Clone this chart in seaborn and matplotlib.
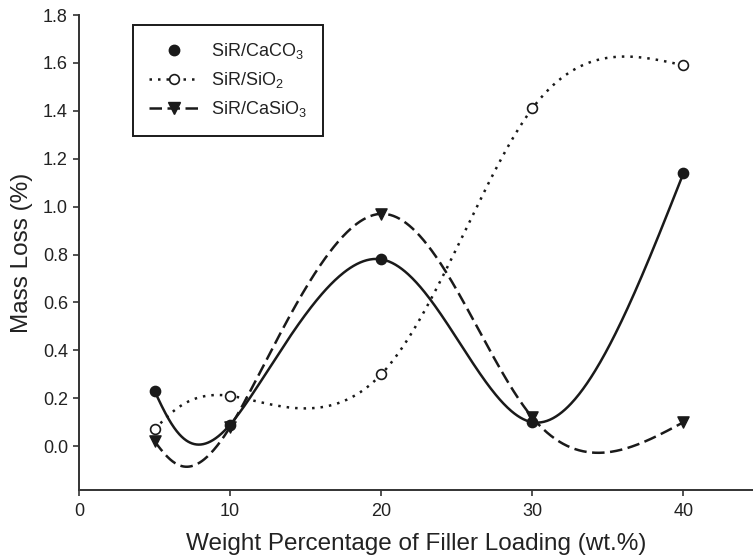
import numpy as np
import pandas as pd
import matplotlib
matplotlib.use("Agg")
import matplotlib.pyplot as plt
from matplotlib.lines import Line2D
import seaborn as sns

# ---- data ----
loading = [5, 10, 20, 30, 40]
caco3 = [0.23, 0.09, 0.78, 0.10, 1.14]
sio2 = [0.07, 0.21, 0.30, 1.41, 1.59]
casio3 = [0.02, 0.08, 0.97, 0.12, 0.10]
series_labels = ["SiR/CaCO$_\\mathregular{3}$",
                 "SiR/SiO$_\\mathregular{2}$",
                 "SiR/CaSiO$_\\mathregular{3}$"]
x_ticks = [0, 10, 20, 30, 40]
y_ticks = [0.0, 0.2, 0.4, 0.6, 0.8, 1.0, 1.2, 1.4, 1.6, 1.8]

sns.set_style("ticks")
plt.rcParams["font.family"] = ["Liberation Sans", "DejaVu Sans"]
plt.rcParams["mathtext.fontset"] = "custom"
plt.rcParams["mathtext.rm"] = "Liberation Sans"


def natural_second_derivs(t, v):
    k = len(t)
    h = np.diff(t)
    A = np.zeros((k, k))
    b = np.zeros(k)
    A[0, 0] = A[-1, -1] = 1.0
    for i in range(1, k - 1):
        A[i, i - 1] = h[i - 1]
        A[i, i] = 2 * (h[i - 1] + h[i])
        A[i, i + 1] = h[i]
        b[i] = 6 * ((v[i + 1] - v[i]) / h[i] - (v[i] - v[i - 1]) / h[i - 1])
    return np.linalg.solve(A, b)


def eval_spline(t, v, M, ts):
    k = len(t)
    idx = np.clip(np.searchsorted(t, ts) - 1, 0, k - 2)
    t0, t1 = t[idx], t[idx + 1]
    hh = t1 - t0
    a, c = t1 - ts, ts - t0
    return (M[idx] * a ** 3 / (6 * hh) + M[idx + 1] * c ** 3 / (6 * hh)
            + (v[idx] / hh - M[idx] * hh / 6) * a
            + (v[idx + 1] / hh - M[idx + 1] * hh / 6) * c)


def parametric_spline(x, y, n=600):
    """Smooth parametric curve through the data points (uniform parameter)."""
    x = np.asarray(x, float)
    y = np.asarray(y, float)
    t = np.arange(len(x), dtype=float)
    ts = np.linspace(0, t[-1], n)
    xs = eval_spline(t, x, natural_second_derivs(t, x), ts)
    ys = eval_spline(t, y, natural_second_derivs(t, y), ts)
    return xs, ys


W, H = 753, 559
fig = plt.figure(figsize=(W / 100, H / 100), dpi=100)
ax = fig.add_axes([79 / W, (H - 490) / H, (W - 79) / W, (490 - 15) / H])

ink = "#1a1a1a"
specs = [
    (caco3, "-", "o", ink, 55, 1.0),
    (sio2, (0, (1, 2.4)), "o", "white", 50, 1.2),
    (casio3, (0, (5, 2.2)), "v", ink, 65, 1.0),
]

for vals, ls, mk, fc, s, ew in specs:
    xs, ys = parametric_spline(loading, vals)
    curve = pd.DataFrame({"x": xs, "y": ys})
    sns.lineplot(data=curve, x="x", y="y", ax=ax, color=ink, linewidth=1.8,
                 linestyle=ls, sort=False, estimator=None, zorder=2)
    pts = pd.DataFrame({"x": loading, "y": vals})
    sns.scatterplot(data=pts, x="x", y="y", ax=ax, marker=mk, s=s,
                    color=fc, edgecolor=ink, linewidth=ew, zorder=3)

ax.set_xlim(0, 44.6)
ax.set_ylim(-0.183, 1.8)
ax.set_xticks(x_ticks)
ax.set_xticklabels([str(v) for v in x_ticks])
ax.set_yticks(y_ticks)
ax.set_yticklabels([f"{v:.1f}" for v in y_ticks])

for side in ["top", "right"]:
    ax.spines[side].set_visible(False)
for side in ["left", "bottom"]:
    ax.spines[side].set_color("#333333")
    ax.spines[side].set_linewidth(1.4)

ax.tick_params(axis="both", direction="out", length=4.5, width=1.2,
               color="#333333", labelsize=13, labelcolor="#222222")
ax.tick_params(axis="x", pad=5)
ax.tick_params(axis="y", pad=3.5)

ax.set_xlabel("Weight Percentage of Filler Loading (wt.%)", fontsize=17.5,
              color="#222222", va="center")
ax.set_ylabel("Mass Loss (%)", fontsize=17.5, color="#222222")
ax.xaxis.set_label_coords(0.5, -0.114)
ax.yaxis.set_label_coords(-0.068, 0.5)

handles = [
    Line2D([], [], color=ink, marker="o", linestyle="None", markersize=7.5,
           markerfacecolor=ink, markeredgecolor=ink),
    Line2D([], [], color=ink, marker="o", linestyle=(0, (1, 2.4)), linewidth=1.8,
           markersize=7, markerfacecolor="white", markeredgecolor=ink, markeredgewidth=1.2),
    Line2D([], [], color=ink, marker="v", linestyle=(0, (5, 2.2)), linewidth=1.8,
           markersize=8, markerfacecolor=ink, markeredgecolor=ink),
]
leg = ax.legend(handles, series_labels, loc="upper left",
                bbox_to_anchor=((133 - 79) / (W - 79), (490 - 25) / (490 - 15)),
                borderaxespad=0, fontsize=13, frameon=True, fancybox=False,
                framealpha=1, edgecolor=ink, handlelength=2.7, handletextpad=0.7,
                borderpad=0.9, labelspacing=0.5)
leg.get_frame().set_linewidth(1.4)
for t in leg.get_texts():
    t.set_color("#222222")

fig.savefig("out.png", dpi=100)
